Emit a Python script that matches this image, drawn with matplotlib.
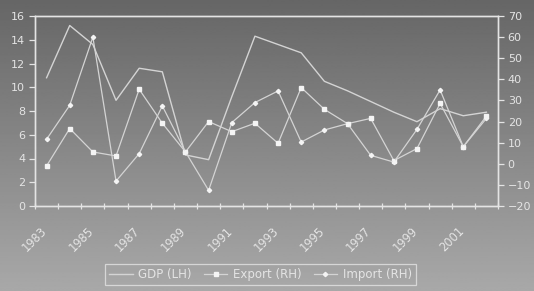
import numpy as np
import matplotlib
matplotlib.use("Agg")
import matplotlib.pyplot as plt
import matplotlib.transforms as mtransforms

years = [str(y) for y in range(1983, 2003)]
gdp = [10.8, 15.2, 13.6, 8.9, 11.6, 11.3, 4.3, 3.9, 9.2, 14.3,
       13.6, 12.9, 10.5, 9.7, 8.8, 7.9, 7.1, 8.2, 7.6, 7.9]
export = [-1.0, 16.7, 5.6, 3.7, 35.3, 19.2, 5.6, 20.0, 15.2, 19.2,
          9.7, 36.1, 25.8, 19.0, 21.5, 1.5, 7.2, 28.6, 8.1, 22.6]
imports = [11.6, 27.7, 60.0, -8.2, 4.8, 27.4, 5.6, -12.6, 19.5, 29.0,
           34.5, 10.3, 16.0, 19.0, 4.0, 0.8, 16.3, 35.0, 8.1, 21.5]
left_ticks = [0, 2, 4, 6, 8, 10, 12, 14, 16]
right_ticks = [-20, -10, 0, 10, 20, 30, 40, 50, 60, 70]
label_years = years[::2]

W, H, DPI = 534, 291, 100
fig = plt.figure(figsize=(W / DPI, H / DPI), dpi=DPI)

# gradient background
bg = fig.add_axes([0, 0, 1, 1], zorder=-10)
grad = np.linspace(0.40, 0.66, 256).reshape(-1, 1)
bg.imshow(grad, aspect="auto", cmap="gray", vmin=0, vmax=1, extent=[0, 1, 0, 1])
bg.axis("off")

fg = "#e4e4e4"
lc = "#d4d4d4"

ax = fig.add_axes([35 / W, 1 - 206 / H, (498 - 35) / W, (206 - 16) / H])
ax.set_facecolor("none")
ax2 = ax.twinx()
ax2.set_facecolor("none")

x = np.arange(len(years))
l1, = ax.plot(x, gdp, color=lc, lw=1.0, label="GDP (LH)")
l2, = ax2.plot(x, export, color=lc, lw=0.9, marker="s", ms=2.6,
               mfc="#f4f4f4", mec="#f4f4f4", label="Export (RH)")
l3, = ax2.plot(x, imports, color=lc, lw=0.9, marker="D", ms=2.2,
               mfc="#f4f4f4", mec="#f4f4f4", label="Import (RH)")

ax.set_xlim(-0.5, len(years) - 0.5)
ax.set_ylim(0, 16)
ax2.set_ylim(-20, 70)
ax.set_yticks(left_ticks)
ax2.set_yticks(right_ticks)

ax.set_xticks(x[::2])
ax.set_xticklabels(label_years, rotation=45, ha="right", rotation_mode="anchor")
ax.set_xticks(np.arange(-0.5, len(years)), minor=True)
ax.tick_params(axis="x", which="major", length=0, pad=13, colors=fg, labelsize=8.3)
ax.tick_params(axis="x", which="minor", length=5, direction="inout", color=fg, width=0.9)
ax.tick_params(axis="y", colors=fg, labelsize=8, length=4, width=0.9, pad=3)
ax2.tick_params(axis="y", colors=fg, labelsize=8, length=4, width=0.9, pad=3)

offset = mtransforms.ScaledTranslation(-6 / DPI, 0, fig.dpi_scale_trans)
for lab in ax.get_xticklabels():
    lab.set_transform(lab.get_transform() + offset)

for a in (ax, ax2):
    for s in a.spines.values():
        s.set_color(fg)
        s.set_linewidth(1.0)

leg = fig.legend(handles=[l1, l2, l3], loc="lower center", bbox_to_anchor=(0.488, 0.0),
                 ncol=3, fontsize=8.5, frameon=True, fancybox=False,
                 handlelength=2.0, handletextpad=0.5, columnspacing=1.0, borderpad=0.35)
leg.get_frame().set_facecolor("none")
leg.get_frame().set_edgecolor(fg)
leg.get_frame().set_linewidth(0.9)
for t in leg.get_texts():
    t.set_color(fg)

fig.savefig("out.png", dpi=DPI)
